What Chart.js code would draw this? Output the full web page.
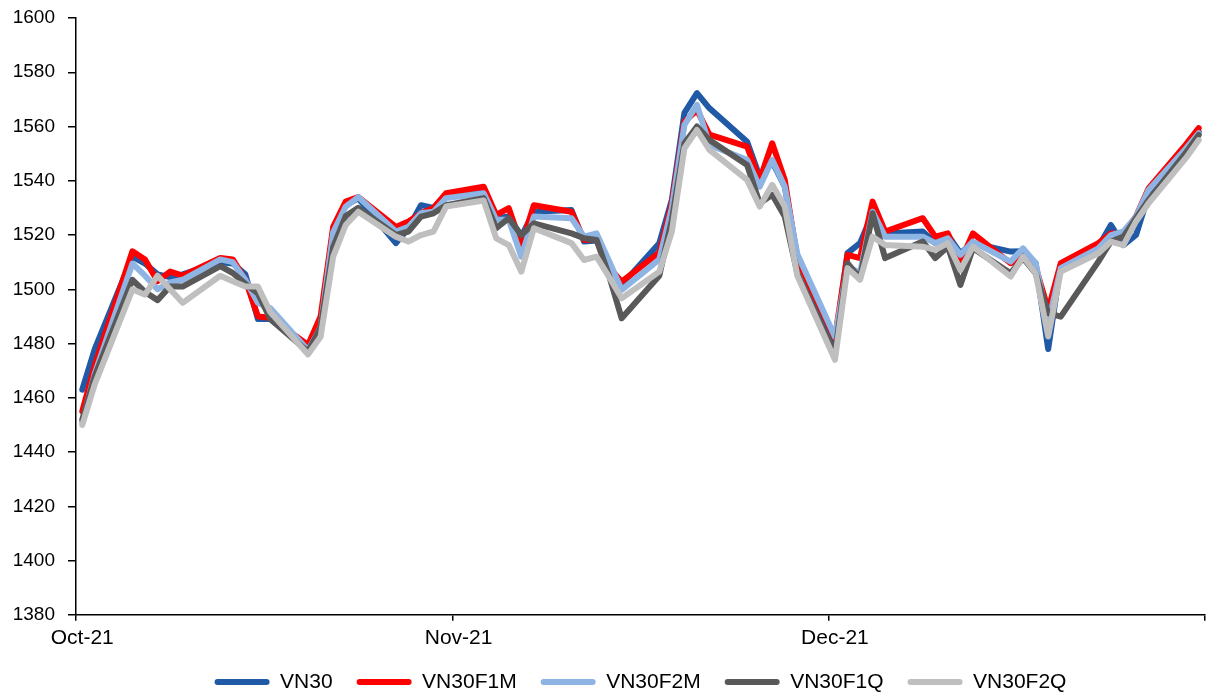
<!DOCTYPE html>
<html>
<head>
<meta charset="utf-8">
<script src="https://cdn.jsdelivr.net/npm/chart.js@4.4.1/dist/chart.umd.min.js"></script>
<style>
  html, body { margin: 0; padding: 0; background: #ffffff; }
  #wrap { width: 1208px; height: 694px; position: relative; }
</style>
</head>
<body>
<div id="wrap"><canvas id="chart" width="1208" height="694"></canvas></div>
<script>
// Trading sessions (daily closes)
const tradingDates = [
  '2021-09-30','2021-10-01',
  '2021-10-04','2021-10-05','2021-10-06','2021-10-07','2021-10-08',
  '2021-10-11','2021-10-12','2021-10-13','2021-10-14','2021-10-15',
  '2021-10-18','2021-10-19','2021-10-20','2021-10-21','2021-10-22',
  '2021-10-25','2021-10-26','2021-10-27','2021-10-28','2021-10-29',
  '2021-11-01','2021-11-02','2021-11-03','2021-11-04','2021-11-05',
  '2021-11-08','2021-11-09','2021-11-10','2021-11-11','2021-11-12',
  '2021-11-15','2021-11-16','2021-11-17','2021-11-18','2021-11-19',
  '2021-11-22','2021-11-23','2021-11-24','2021-11-25','2021-11-26',
  '2021-11-29','2021-11-30','2021-12-01','2021-12-02','2021-12-03',
  '2021-12-06','2021-12-07','2021-12-08','2021-12-09','2021-12-10',
  '2021-12-13','2021-12-14','2021-12-15','2021-12-16','2021-12-17',
  '2021-12-20','2021-12-21','2021-12-22','2021-12-23','2021-12-24',
  '2021-12-27','2021-12-28'
];

const vn30 = [
  1463, 1478,
  1512, 1509.5, 1505.5, 1504.5, 1505.5,
  1510, 1509.5, 1505.5, 1489, 1489,
  1478.5, 1484, 1522, 1531, 1533.5,
  1517, 1522.5, 1531, 1530, 1534.8,
  1536, 1526.2, 1526.8, 1519.4, 1528.6,
  1529.2, 1517.6, 1518, 1508.5, 1501.6,
  1517, 1533, 1565, 1572.3, 1566.7,
  1554.4, 1541.5, 1547, 1537.8, 1512,
  1479, 1513.3, 1517, 1528, 1520.6,
  1521.3, 1517, 1520, 1513.3, 1517,
  1513.9, 1514, 1509.6, 1478, 1509,
  1515.7, 1523.7, 1516.3, 1520, 1534.8,
  1552, 1558
];

const vn30f1m = [
  1455, 1472,
  1514, 1511, 1503, 1506.5, 1505,
  1511.5, 1511, 1503.5, 1490, 1489.5,
  1479.5, 1490, 1523, 1532.3, 1534,
  1523, 1525, 1528, 1530, 1535.4,
  1537.8, 1527.4, 1529.9, 1516.3, 1531,
  1528.6, 1518.2, 1518.5, 1508, 1502.8,
  1513.5, 1531.7, 1561.8, 1566, 1557,
  1552.6, 1540.3, 1553.8, 1540.3, 1511,
  1482, 1512.7, 1511.5, 1532.3, 1521.3,
  1526.2, 1519.4, 1520.6, 1510.2, 1520.6,
  1509.6, 1512, 1508.3, 1492.4, 1509.6,
  1517, 1520.6, 1520.6, 1526.8, 1537.2,
  1553.5, 1559.4
];

const vn30f2m = [
  1451, 1469,
  1509.5, 1505, 1500, 1502.5, 1503.5,
  1511, 1510, 1503.5, 1495, 1493,
  1477.5, 1486, 1521, 1530.5, 1534,
  1521.3, 1523, 1528, 1528.6, 1533.6,
  1535.4, 1525.6, 1525.6, 1512, 1526.8,
  1526.2, 1519.4, 1520.6, 1510.3, 1499.8,
  1511, 1530, 1560.6, 1568, 1553.2,
  1547.7, 1537.8, 1547.7, 1537.8, 1513,
  1482.5, 1508.3, 1506, 1528.6, 1519.4,
  1519.4, 1517, 1518.8, 1512.7, 1517.6,
  1510.2, 1515.1, 1509.6, 1487.5, 1507.8,
  1515.1, 1520, 1521.3, 1526.8, 1536.6,
  1552, 1557.5
];

const vn30f1q = [
  1452, 1468,
  1503.5, 1499, 1496, 1501, 1501,
  1508.5, 1506, 1502, 1498.5, 1489,
  1477, 1486, 1515.5, 1527, 1530,
  1520, 1521.3, 1526.8, 1528, 1531,
  1533.6, 1522.5, 1526.2, 1520, 1524.3,
  1520.6, 1518.8, 1518.2, 1504.9, 1489.3,
  1505, 1525.6, 1553.8, 1560, 1555,
  1545.8, 1531.7, 1534.8, 1526.8, 1506,
  1476.4, 1509.6, 1504, 1528, 1511.5,
  1517.6, 1511.5, 1515.7, 1501.6, 1515.1,
  1505.9, 1511.5, 1505.9, 1491.2, 1489.9,
  1510.2, 1517.6, 1519.4, 1526.2, 1532.9,
  1550.5, 1556.9
];

const vn30f2q = [
  1450, 1465,
  1500, 1498, 1505, 1500, 1495,
  1505, 1503, 1501, 1501, 1491.5,
  1476, 1482.5, 1512, 1523.7, 1528.6,
  1519.4, 1517.6, 1520, 1521.3, 1530.5,
  1532.7, 1518.8, 1516.3, 1506.5, 1522.5,
  1517, 1510.8, 1512, 1504.5, 1496.7,
  1506.5, 1521.3, 1552, 1558.7, 1551.4,
  1540.3, 1530.5, 1538.5, 1530.5, 1505,
  1474, 1507.8, 1503.5, 1519.4, 1516.3,
  1515.7, 1514.5, 1517, 1507.1, 1515.7,
  1504.7, 1512, 1505.9, 1482.6, 1506.5,
  1513.3, 1517.6, 1516.3, 1525, 1531.7,
  1548.5, 1555
];

const seriesNames = ['VN30', 'VN30F1M', 'VN30F2M', 'VN30F1Q', 'VN30F2Q'];
const seriesValues = [vn30, vn30f1m, vn30f2m, vn30f1q, vn30f2q];
const seriesColors = ['#2059a6', '#ff0000', '#8eb4e3', '#595959', '#bfbfbf'];

// Month labels shown every 30 calendar days along the axis
const tickLabels = ['Oct-21', 'Nov-21', 'Dec-21'];
const tickEvery = 30;

const yMin = 1380, yMax = 1600, yStep = 20;

// One category per calendar day; non-trading days stay empty and the line spans them
function isoDay(t) { return new Date(t).toISOString().slice(0, 10); }
const dayMs = 86400000;
const firstDay = Date.parse(tradingDates[0] + 'T00:00:00Z');
const lastDay = Date.parse(tradingDates[tradingDates.length - 1] + 'T00:00:00Z');
const calendarDays = [];
for (let t = firstDay; t <= lastDay; t += dayMs) calendarDays.push(isoDay(t));

function onCalendar(values) {
  const byDate = new Map(tradingDates.map((d, i) => [d, values[i]]));
  return calendarDays.map(d => byDate.has(d) ? byDate.get(d) : null);
}

const FONT = "'Liberation Sans', Arial, Helvetica, sans-serif";

// Keeps the legend row centred under the plot area at a fixed baseline
const legendPlacement = {
  id: 'legendPlacement',
  afterLayout(chart, args, opts) {
    const lg = chart.legend;
    if (!lg) return;
    const area = chart.chartArea;
    const dx = (area.left + area.right) / 2 - (lg.left + lg.right) / 2;
    lg.left += dx;
    lg.right += dx;
    const pad = lg.options.labels.padding;
    const size = lg.options.labels.font.size;
    lg.top = opts.rowCenter - pad - size / 2;
    lg.bottom = chart.height;
    lg.height = lg.bottom - lg.top;
  }
};

const tickMarkColor = c => (c.index === undefined || c.index % tickEvery === 0) ? '#000000' : 'rgba(0,0,0,0)';

new Chart(document.getElementById('chart'), {
  type: 'line',
  data: {
    labels: calendarDays,
    datasets: seriesNames.map((name, i) => ({
      label: name,
      data: onCalendar(seriesValues[i]),
      borderColor: seriesColors[i],
      backgroundColor: seriesColors[i],
      borderWidth: 6,
      borderJoinStyle: 'round',
      borderCapStyle: 'round',
      pointRadius: 0,
      pointHoverRadius: 0,
      tension: 0,
      spanGaps: true,
      fill: false,
      order: seriesNames.length - i
    }))
  },
  options: {
    responsive: false,
    animation: false,
    events: [],
    layout: { padding: { top: 18, right: 3, left: 0, bottom: 0 } },
    plugins: {
      tooltip: { enabled: false },
      legendPlacement: { rowCenter: 682 },
      legend: {
        position: 'bottom',
        maxHeight: 38,
        labels: {
          color: '#000000',
          font: { family: FONT, size: 21 },
          boxWidth: 55,
          boxHeight: 6,
          padding: 24,
          sort: (a, b) => a.datasetIndex - b.datasetIndex,
          generateLabels: chart => Chart.defaults.plugins.legend.labels.generateLabels(chart)
            .map(item => Object.assign(item, { lineWidth: 0, borderRadius: 3 }))
        }
      }
    },
    scales: {
      x: {
        type: 'category',
        offset: true,
        grid: {
          offset: true,
          drawOnChartArea: false,
          drawTicks: true,
          tickLength: 6,
          lineWidth: 1.5,
          color: tickMarkColor,
          tickColor: tickMarkColor
        },
        border: { display: true, color: '#000000', width: 1.5 },
        ticks: {
          autoSkip: false,
          maxRotation: 0,
          minRotation: 0,
          padding: 5,
          color: '#000000',
          font: { family: FONT, size: 21 },
          callback: (value, index) => (index % tickEvery === 0 && tickLabels[index / tickEvery]) ? tickLabels[index / tickEvery] : ''
        }
      },
      y: {
        min: yMin,
        max: yMax,
        grid: {
          drawOnChartArea: false,
          drawTicks: true,
          tickLength: 8,
          lineWidth: 1.5,
          color: '#000000',
          tickColor: '#000000'
        },
        border: { display: true, color: '#000000', width: 1.5 },
        ticks: {
          stepSize: yStep,
          padding: 13,
          color: '#000000',
          font: { family: FONT, size: 19 },
          callback: value => String(value)
        },
        afterFit: scale => {
          scale.width = 76;
          scale.paddingTop = 0;
          scale.paddingBottom = 0;
        }
      }
    }
  },
  plugins: [legendPlacement]
});
</script>
</body>
</html>
